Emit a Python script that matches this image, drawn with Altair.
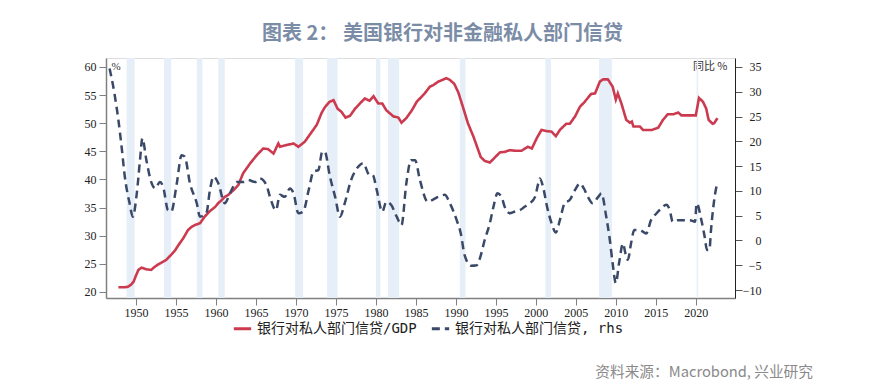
import altair as alt
import pandas as pd

# ---- data ----
red_years = [1947.8, 1948.5, 1949.0, 1949.4, 1949.7, 1950.0, 1950.3, 1950.7, 1951.3, 1951.9,
             1952.3, 1952.8, 1953.3, 1953.8, 1954.4, 1954.9, 1955.3, 1955.9, 1956.5, 1957.0,
             1957.4, 1958.0, 1958.6, 1959.2, 1959.9, 1960.3, 1960.7, 1961.1, 1961.5, 1962.2,
             1962.8, 1963.4, 1964.3, 1965.1, 1965.9, 1966.5, 1967.2, 1967.8, 1968.0, 1968.8,
             1969.7, 1970.3, 1971.1, 1971.7, 1972.6, 1973.2, 1973.6, 1974.2, 1974.7, 1975.2,
             1975.7, 1976.2, 1976.75, 1977.4, 1978.0, 1978.6, 1979.2, 1979.7, 1980.3, 1980.8,
             1981.3, 1982.2, 1982.8, 1983.2, 1983.8, 1984.5, 1985.1, 1985.7, 1986.1, 1986.75,
             1987.2, 1987.8, 1988.8, 1989.25, 1989.8, 1990.3, 1990.9, 1991.5, 1992.2, 1993.1,
             1993.6, 1994.25, 1994.8, 1995.5, 1996.1, 1996.75, 1997.4, 1998.2, 1999.0, 1999.5,
             2000.1, 2000.7, 2001.3, 2001.96, 2002.5, 2003.0, 2003.8, 2004.25, 2004.9, 2005.5,
             2006.1, 2006.9, 2007.4, 2008.0, 2008.4, 2009.0, 2009.6, 2010.0, 2010.25, 2010.7,
             2011.3, 2011.75, 2012.0, 2012.2, 2013.0, 2013.4, 2014.5, 2015.3, 2015.9, 2016.5,
             2017.2, 2017.8, 2018.2, 2018.8, 2019.5, 2020.0, 2020.4, 2020.9, 2021.3, 2021.6,
             2022.1, 2022.3, 2022.7]
red_vals = [20.8, 20.8, 20.9, 21.3, 21.8, 22.9, 23.9, 24.3, 24.0, 23.9,
            24.4, 24.9, 25.3, 25.7, 26.6, 27.4, 28.3, 29.5, 31.0, 31.6,
            31.9, 32.2, 33.4, 34.3, 35.1, 35.8, 36.3, 36.9, 37.2, 38.1,
            39.0, 41.1, 42.9, 44.3, 45.5, 45.4, 44.6, 46.4, 45.8, 46.1,
            46.4, 45.8, 46.7, 47.9, 49.7, 51.8, 52.8, 53.8, 54.1, 52.6,
            52.0, 51.0, 51.3, 52.6, 53.5, 54.4, 54.0, 54.8, 53.5, 53.5,
            52.3, 51.2, 51.0, 50.1, 50.9, 52.3, 53.8, 54.7, 55.3, 56.5,
            56.8, 57.4, 58.0, 57.7, 57.0, 55.5, 52.8, 50.0, 47.6, 44.0,
            43.3, 43.0, 43.8, 44.8, 44.9, 45.2, 45.1, 45.1, 45.8, 45.5,
            47.3, 48.8, 48.6, 48.5, 47.7, 48.8, 49.9, 49.9, 51.2, 52.9,
            53.8, 55.2, 55.3, 57.4, 57.8, 57.8, 56.5, 54.2, 55.3, 53.5,
            50.6, 50.1, 50.3, 49.4, 49.4, 48.8, 48.8, 49.2, 50.6, 51.6,
            51.6, 51.9, 51.4, 51.4, 51.4, 51.4, 54.5, 53.8, 52.6, 50.6,
            49.9, 50.0, 50.9]

dash_years = [1946.7, 1947.3, 1947.8, 1948.2, 1948.6, 1949.2, 1949.6, 1950.1, 1950.5, 1950.8,
              1951.3, 1951.9, 1952.4, 1953.0, 1953.4, 1954.0, 1954.4, 1955.1, 1955.7, 1956.1,
              1956.75, 1957.6, 1958.0, 1958.8, 1959.25, 1959.7, 1960.3, 1961.1, 1961.75, 1962.6,
              1963.4, 1964.0, 1964.9, 1965.5, 1966.3, 1966.75, 1967.5, 1968.0, 1968.6, 1969.25,
              1969.7, 1970.3, 1970.9, 1971.6, 1972.2, 1972.8, 1973.3, 1973.6, 1974.25, 1974.9,
              1975.5, 1976.1, 1976.9, 1977.8, 1978.4, 1979.2, 1979.6, 1980.1, 1980.8, 1981.3,
              1981.9, 1982.6, 1983.2, 1983.8, 1984.4, 1984.9, 1985.5, 1986.5, 1987.1, 1987.8,
              1988.6, 1989.25, 1990.1, 1990.6, 1991.1, 1991.9, 1992.6, 1993.0, 1993.6, 1994.25,
              1994.7, 1995.2, 1995.7, 1996.1, 1996.75, 1997.3, 1998.0, 1998.6, 1999.25, 1999.9,
              2000.3, 2000.5, 2000.9, 2001.4, 2001.96, 2002.5, 2003.0, 2003.6, 2004.25, 2004.9,
              2005.5, 2006.0, 2006.5, 2007.1, 2007.8, 2008.2, 2008.8, 2009.25, 2009.6, 2010.0,
              2010.4, 2010.9, 2011.2, 2011.5, 2011.9, 2012.3, 2013.0, 2013.8, 2014.4, 2015.1,
              2015.7, 2016.3, 2016.75, 2017.1, 2017.8, 2018.6, 2019.25, 2019.9, 2020.1, 2020.7,
              2021.1, 2021.4, 2021.7, 2021.9, 2022.3, 2022.7]
dash_vals = [34.7, 29.7, 24.3, 18.9, 12.9, 7.5, 4.8, 9.5, 16.2, 20.6,
             16.2, 11.8, 10.5, 11.8, 10.8, 6.1, 5.8, 11.5, 17.2, 16.9,
             11.5, 7.5, 4.8, 5.5, 10.2, 12.9, 11.5, 7.5, 9.5, 11.8,
             11.8, 12.2, 11.8, 12.5, 11.2, 8.8, 6.1, 9.2, 8.8, 10.5,
             9.5, 5.5, 5.8, 10.2, 13.9, 14.2, 17.9, 17.9, 12.9, 8.8,
             4.8, 7.5, 12.2, 14.9, 15.6, 13.2, 13.2, 10.2, 5.8, 7.8,
             7.2, 4.8, 3.1, 11.5, 16.2, 16.2, 12.2, 7.8, 8.2, 8.8,
             9.2, 7.5, 4.1, 1.5, -3.0, -5.1, -5.0, -3.6, 0.1, 3.5,
             6.8, 9.5, 8.8, 6.8, 5.5, 5.8, 6.1, 6.8, 7.5, 8.8,
             11.5, 12.5, 10.8, 6.8, 3.5, 1.6, 4.1, 7.5, 8.2, 10.2,
             11.5, 10.5, 8.8, 7.5, 8.8, 9.5, 4.8, 0.1, -4.6, -8.6,
             -4.6, -0.6, -2.6, -3.9, -0.6, 2.1, 2.1, 1.4, 4.1, 5.5,
             6.5, 7.2, 6.1, 3.8, 4.1, 4.1, 4.1, 3.8, 7.5, 4.1,
             0.8, -1.9, -1.9, 2.1, 8.2, 11.8]

rec_start = [1948.83, 1953.5, 1957.6, 1960.3, 1969.9, 1973.9, 1980.0, 1981.5, 1990.5, 2001.2, 2007.9, 2020.1]
rec_end = [1949.83, 1954.4, 1958.3, 1961.1, 1970.9, 1975.2, 1980.55, 1982.9, 1991.2, 2001.9, 2009.5, 2020.3]

x_ticks = list(range(1950, 2021, 5))
left_ticks = list(range(20, 61, 5))
right_ticks = list(range(-10, 36, 5))

S1 = "银行对私人部门信贷/GDP"
S2 = "银行对私人部门信贷, rhs"
TITLE = "图表 2： 美国银行对非金融私人部门信贷"
SOURCE = "资料来源：Macrobond, 兴业研究"

red_df = pd.DataFrame({"year": red_years, "v": red_vals, "series": S1})
dash_df = pd.DataFrame({"year": dash_years, "v": dash_vals, "series": S2})
rec_df = pd.DataFrame({"start": rec_start, "end": rec_end})
src_df = pd.DataFrame({"t": [SOURCE]})

xscale = alt.Scale(domain=[1946.25, 2024.9], nice=False, zero=False)
xaxis = alt.Axis(values=x_ticks, format="d", title=None, grid=False,
                 labelFont="Liberation Serif", labelFontSize=12, labelColor="#222",
                 tickSize=7, tickColor="#808080", domainColor="#808080", domainWidth=1.5,
                 labelPadding=2)

color_scale = alt.Scale(domain=[S1, S2], range=["#CC3A4F", "#3B4969"])
dash_scale = alt.Scale(domain=[S1, S2], range=[[1, 0], [8, 5]])
legend = alt.Legend(title=None, orient="none", legendX=126, legendY=260,
                    direction="horizontal", symbolType="stroke", symbolStrokeWidth=3,
                    symbolSize=300, labelFont="DejaVu Sans Mono, Noto Sans CJK SC",
                    labelFontSize=14, labelColor="#222", columnPadding=8, labelLimit=400)

bands = alt.Chart(rec_df).mark_rect(color="#E6EEF7").encode(
    x=alt.X("start:Q", scale=xscale, axis=xaxis),
    x2="end:Q",
)

red = alt.Chart(red_df).mark_line(strokeWidth=2.6).encode(
    x=alt.X("year:Q", scale=xscale, axis=xaxis),
    y=alt.Y("v:Q", scale=alt.Scale(domain=[18.9, 61.6], nice=False, zero=False),
            axis=alt.Axis(orient="left", values=left_ticks, grid=False,
                          labelFont="Liberation Serif", labelFontSize=12, labelColor="#222",
                          tickSize=7, tickColor="#808080", domainColor="#808080",
                          domainWidth=1.5, labelPadding=3,
                          title="%", titleAngle=0, titleX=5, titleY=8, titleAlign="left",
                          titleBaseline="middle", titleFont="Liberation Serif",
                          titleFontSize=11, titleFontWeight="normal", titleColor="#333")),
    color=alt.Color("series:N", scale=color_scale, legend=legend),
    strokeDash=alt.StrokeDash("series:N", scale=dash_scale, legend=legend),
)

dash = alt.Chart(dash_df).mark_line(strokeWidth=2.5, interpolate="monotone").encode(
    x=alt.X("year:Q", scale=xscale, axis=xaxis),
    y=alt.Y("v:Q", scale=alt.Scale(domain=[-11.6, 36.8], nice=False, zero=False),
            axis=alt.Axis(orient="right", values=right_ticks, grid=False,
                          labelFont="Liberation Serif", labelFontSize=12, labelColor="#222",
                          tickSize=7, tickColor="#555", domainColor="#222",
                          domainWidth=1, labelPadding=19, labelAlign="right",
                          title="同比 %", titleAngle=0, titleX=-8, titleY=8, titleAlign="right",
                          titleBaseline="middle", titleFont="Noto Sans CJK SC",
                          titleFontSize=11, titleFontWeight="normal", titleColor="#333")),
    color=alt.Color("series:N", scale=color_scale, legend=legend),
    strokeDash=alt.StrokeDash("series:N", scale=dash_scale, legend=legend),
)

src = alt.Chart(src_df).mark_text(align="right", baseline="middle", font="Noto Sans CJK SC",
                                   fontSize=14.7, color="#8a8a8a").encode(
    text="t:N", x=alt.value(707), y=alt.value(315))

chart = alt.layer(bands, red, dash, src).resolve_scale(y="independent").properties(
    width=629, height=240,
    title=alt.TitleParams(text=TITLE, anchor="start", frame="group", dx=156, offset=4,
                          fontSize=20, font="Noto Sans CJK SC", fontWeight="bold",
                          color="#7B8CA6", baseline="middle"),
    padding={"left": 98, "top": 50, "right": 126, "bottom": 86},
    autosize=alt.AutoSizeParams(type="none"),
).configure_view(stroke=None).configure(background="white")

chart.save("out.html", embed_options={"renderer": "svg", "actions": False})
